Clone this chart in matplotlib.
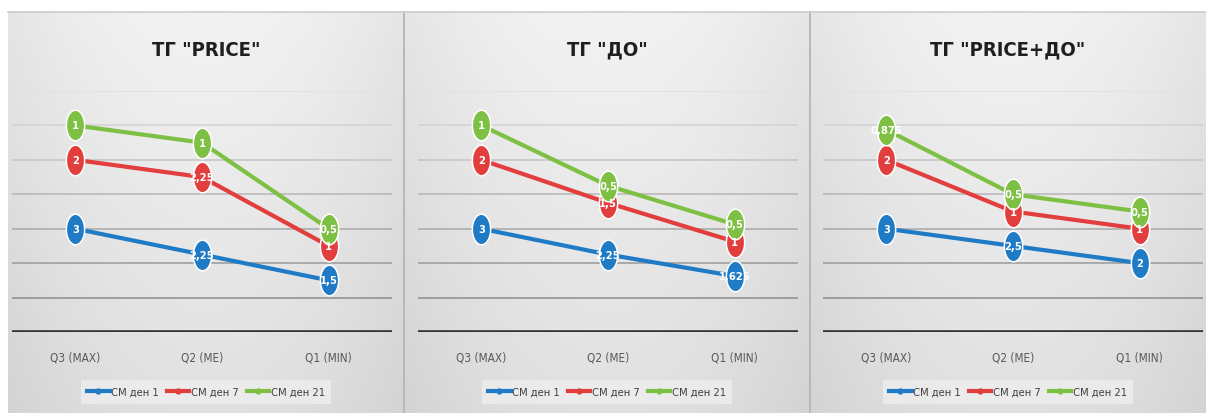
import numpy as np
import matplotlib
matplotlib.use("Agg")
import matplotlib.pyplot as plt
from matplotlib import font_manager
from matplotlib.path import Path
from matplotlib.lines import Line2D

# ---- data -------------------------------------------------------------
categories = ["Q3 (MAX)", "Q2 (ME)", "Q1 (MIN)"]
series_names = ["СМ ден 1", "СМ ден 7", "СМ ден 21"]
panel_titles = ['ТГ "PRICE"', 'ТГ "ДО"', 'ТГ "PRICE+ДО"']

price_day1 = [3, 2.25, 1.5]
price_day7 = [2, 2.25, 1]
price_day21 = [1, 1, 0.5]

do_day1 = [3, 2.25, 1.625]
do_day7 = [2, 1.5, 1]
do_day21 = [1, 0.5, 0.5]

mix_day1 = [3, 2.5, 2]
mix_day7 = [2, 1, 1]
mix_day21 = [0.875, 0.5, 0.5]

panels = [
    [price_day1, price_day7, price_day21],
    [do_day1, do_day7, do_day21],
    [mix_day1, mix_day7, mix_day21],
]

colors = ["#1f7bc6", "#e23e3e", "#7dc043"]

# ---- fonts ------------------------------------------------------------
available = {f.name for f in font_manager.fontManager.ttflist}
if "Liberation Sans Narrow" in available:
    FONT = dict(family="Liberation Sans Narrow")
else:
    FONT = dict(family="DejaVu Sans", stretch="condensed")

W, H = 1206, 414
fig = plt.figure(figsize=(W / 100, H / 100), dpi=100)

# ---- panel backgrounds --------------------------------------------------
panel_edges = [(8, 404), (404, 810), (810, 1206)]
top_edge = 12
img = np.ones((H, W, 3))
yy, xx = np.mgrid[0:H, 0:W]
for x0, x1 in panel_edges:
    cx = (x0 + x1) / 2
    half = (x1 - x0) / 2
    u = (xx - cx) / half
    v = (yy - top_edge) / (H - top_edge)
    shade = 0.95 - 0.05 * u ** 2 - 0.07 * v
    mask = (xx >= x0) & (xx < x1) & (yy >= top_edge)
    for c in range(3):
        img[..., c] = np.where(mask, shade, img[..., c])
bg = fig.add_axes([0, 0, 1, 1])
bg.imshow(img, extent=(0, W, H, 0), aspect="auto", interpolation="bilinear")
bg.set_xlim(0, W)
bg.set_ylim(H, 0)
bg.axis("off")
for xs in (404, 810):
    bg.plot([xs, xs], [top_edge, H], color="#b8b8b8", lw=1.4, solid_capstyle="butt")
bg.plot([8, W], [top_edge + 0.5, top_edge + 0.5], color="#cdcdcd", lw=1.2)

# ---- ellipse marker ------------------------------------------------------
t = np.linspace(0, 2 * np.pi, 73)
ellipse = Path(np.column_stack([0.6 * np.cos(t), np.sin(t)]), closed=True)

plot_areas = [(12, 392), (418, 798), (823, 1203)]
y_top, y_bot = 92, 333
ymax = 7


def fmt(v):
    return f"{v:g}".replace(".", ",")


for (px0, px1), (bx0, bx1), title, series in zip(plot_areas, panel_edges, panel_titles, panels):
    ax = fig.add_axes([px0 / W, (H - y_bot) / H, (px1 - px0) / W, (y_bot - y_top) / H])
    ax.set_facecolor("none")
    ax.set_xlim(-0.5, len(categories) - 0.5)
    ax.set_ylim(0, ymax)
    for s in ax.spines.values():
        s.set_visible(False)
    ax.set_yticks([])
    ax.set_xticks(range(len(categories)))
    ax.set_xticklabels(categories, fontsize=8.5, color="#595959", **FONT)
    ax.tick_params(axis="x", length=0, pad=13)

    # horizontal gridlines, fading towards the top
    for g in range(1, ymax + 1):
        shade = 0.55 + 0.33 * (g - 1) / (ymax - 1)
        ax.axhline(g, color=str(shade), lw=1.1, zorder=1)
    ax.axhline(0, color="#333333", lw=2.6, zorder=2)

    x = np.arange(len(categories))
    stacked = np.cumsum(np.array(series, dtype=float), axis=0)
    for i, (vals, cum) in enumerate(zip(series, stacked)):
        ax.plot(x, cum, color=colors[i], lw=3.0, zorder=3 + i,
                marker=ellipse, markersize=22, markerfacecolor=colors[i],
                markeredgecolor="white", markeredgewidth=1.1, clip_on=False)
        for xi, yi, v in zip(x, cum, vals):
            ax.text(xi, yi, fmt(v), ha="center", va="center", color="white",
                    fontsize=8, fontweight="bold", zorder=10, **FONT)

    cx = (bx0 + bx1) / 2
    fig.text(cx / W, 1 - 50 / H, title, ha="center", va="center", fontsize=14.5,
             fontweight="bold", color="#1e1e1e", **FONT)

    handles = [Line2D([], [], color=c, lw=3.0, marker="o", markersize=3.5,
                      markerfacecolor=c, markeredgecolor=c) for c in colors]
    leg = ax.legend(handles, series_names, loc="center", ncol=3,
                    bbox_to_anchor=(cx / W, 1 - 393 / H), bbox_transform=fig.transFigure,
                    frameon=True, fancybox=False, facecolor="#eeeeee", edgecolor="none",
                    framealpha=0.8, handlelength=2.0, handletextpad=0.1, columnspacing=0.8,
                    borderpad=0.6, prop=font_manager.FontProperties(size=8, **FONT))
    for txt in leg.get_texts():
        txt.set_color("#404040")

fig.savefig("out.png", dpi=100)
